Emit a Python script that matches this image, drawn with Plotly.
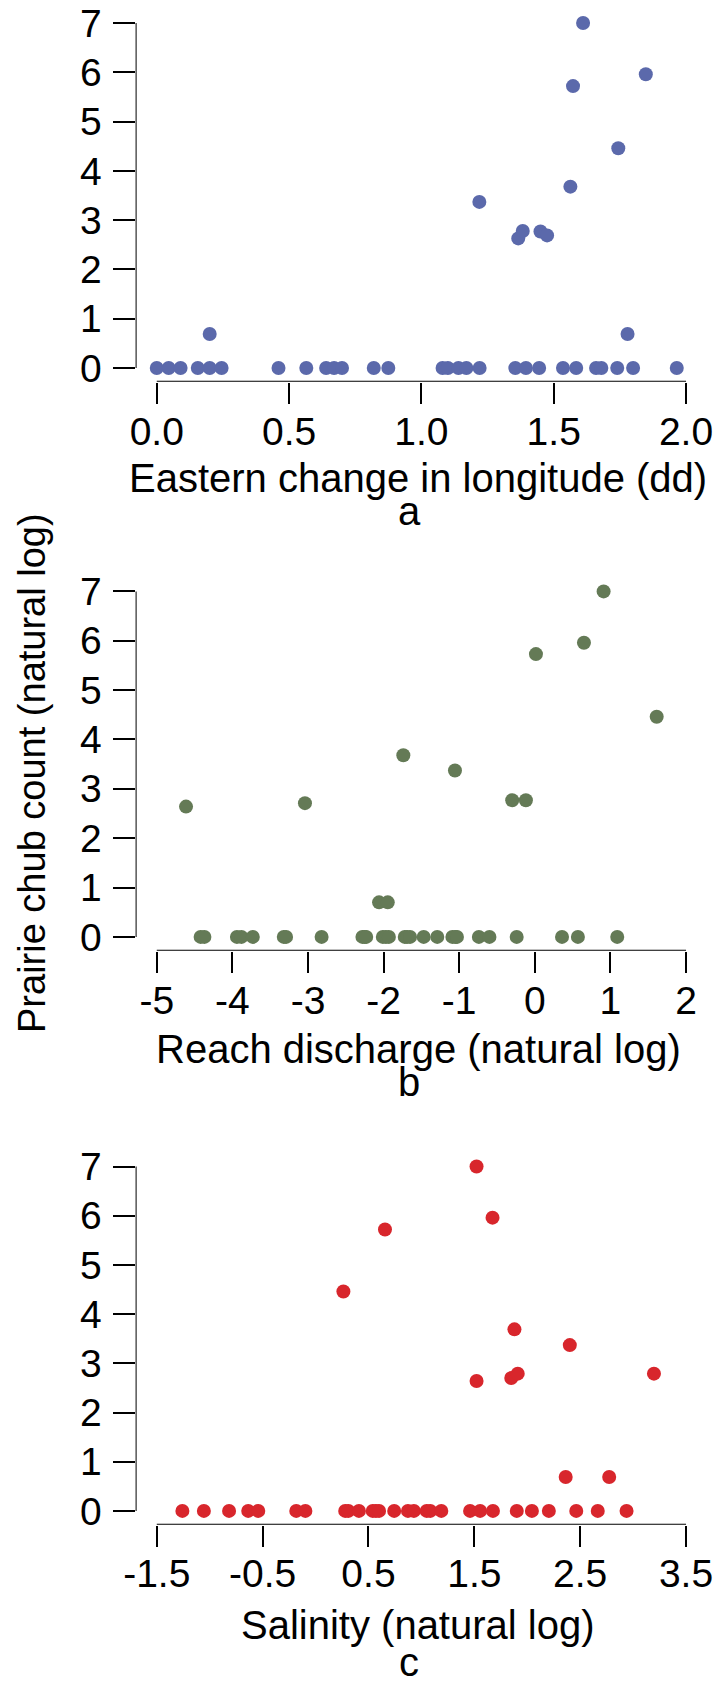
import plotly.graph_objects as go

W, H = 717, 1697
FONT = "Liberation Sans, Arial, Helvetica, sans-serif"

count_ticks = [0, 1, 2, 3, 4, 5, 6, 7]
y_title = "Prairie chub count (natural log)"

# Panel a: eastern change in longitude (dd)
lon_x = [0.0, 0.045, 0.09, 0.155, 0.20, 0.245, 0.46, 0.565, 0.64, 0.67, 0.70, 0.82, 0.875,
         1.08, 1.10, 1.14, 1.17, 1.22, 1.355, 1.395, 1.445, 1.535, 1.585, 1.66, 1.68, 1.74,
         1.80, 1.965,
         0.20, 1.611, 1.573, 1.848, 1.744, 1.563, 1.219, 1.366, 1.383, 1.450, 1.475, 1.779]
lon_y = [0] * 28 + [0.69, 7.0, 5.72, 5.96, 4.46, 3.68, 3.37, 2.63, 2.78, 2.77, 2.69, 0.69]
lon_ticks = [0.0, 0.5, 1.0, 1.5, 2.0]
lon_ticktext = ["0.0", "0.5", "1.0", "1.5", "2.0"]

# Panel b: reach discharge (natural log)
dis_x = [-4.42, -4.37, -3.94, -3.88, -3.73, -3.32, -3.29, -2.82, -2.28, -2.25, -2.23, -2.01,
         -1.97, -1.93, -1.72, -1.69, -1.65, -1.47, -1.29, -1.09, -1.05, -1.03, -0.74, -0.60,
         -0.24, 0.36, 0.57, 1.09,
         -4.613, -3.04, -1.739, -1.056, -0.299, -0.118, 0.015, 0.650, 0.910, 1.612, -2.06, -1.945]
dis_y = [0] * 28 + [2.64, 2.71, 3.68, 3.37, 2.77, 2.77, 5.73, 5.96, 7.0, 4.46, 0.70, 0.70]
dis_ticks = [-5, -4, -3, -2, -1, 0, 1, 2]
dis_ticktext = ["-5", "-4", "-3", "-2", "-1", "0", "1", "2"]

# Panel c: salinity (natural log)
sal_x = [-1.258, -1.055, -0.817, -0.636, -0.541, -0.182, -0.096, 0.28, 0.31, 0.41, 0.54, 0.57,
         0.60, 0.743, 0.873, 0.929, 1.05, 1.084, 1.188, 1.46, 1.555, 1.676, 1.901, 2.044,
         2.204, 2.463, 2.666, 2.938,
         1.521, 1.672, 0.656, 0.263, 1.879, 2.402, 3.197, 1.521, 1.849, 1.910, 2.363, 2.774]
sal_y = [0] * 28 + [7.0, 5.96, 5.72, 4.46, 3.69, 3.37, 2.79, 2.64, 2.70, 2.79, 0.69, 0.69]
sal_ticks = [-1.5, -0.5, 0.5, 1.5, 2.5, 3.5]
sal_ticktext = ["-1.5", "-0.5", "0.5", "1.5", "2.5", "3.5"]

panels = [
    dict(x=lon_x, y=lon_y, color="#5b69ab", ticks=lon_ticks, ticktext=lon_ticktext,
         title="Eastern change in longitude (dd)", letter="a",
         y7=23.0, y0=368.0, title_y=478, letter_y=511),
    dict(x=dis_x, y=dis_y, color="#647a56", ticks=dis_ticks, ticktext=dis_ticktext,
         title="Reach discharge (natural log)", letter="b",
         y7=591.4, y0=936.9, title_y=1049, letter_y=1082),
    dict(x=sal_x, y=sal_y, color="#d8262c", ticks=sal_ticks, ticktext=sal_ticktext,
         title="Salinity (natural log)", letter="c",
         y7=1166.5, y0=1510.9, title_y=1625, letter_y=1662),
]


def px_x(p):
    return p / W


def px_y(p):
    return 1 - p / H


x_left, x_right = 135.6, 707.2
xdom = [px_x(x_left), px_x(x_right)]

fig = go.Figure()
shapes = []
annotations = []
layout = {}
ylo, yhi = count_ticks[0], count_ticks[-1]
ypad = 0.04 * (yhi - ylo)

for i, p in enumerate(panels, start=1):
    xa = "x" if i == 1 else f"x{i}"
    ya = "y" if i == 1 else f"y{i}"
    lo, hi = p["ticks"][0], p["ticks"][-1]
    pad = 0.04 * (hi - lo)
    unit = (p["y0"] - p["y7"]) / (yhi - ylo)
    bottom_px = p["y0"] + ypad * unit
    top_px = max(0.0, p["y7"] - ypad * unit)
    yr = [ylo - ypad, yhi + (p["y7"] - top_px) / unit]
    fig.add_trace(go.Scatter(
        x=p["x"], y=p["y"], mode="markers", xaxis=xa, yaxis=ya,
        marker=dict(size=14, color=p["color"], line=dict(width=0)),
        cliponaxis=False, showlegend=False, hoverinfo="x+y"))
    ydom = [max(0.0, px_y(bottom_px)), min(1.0, px_y(top_px))]
    tickfont = dict(family=FONT, size=39, color="black")
    layout[f"xaxis{'' if i == 1 else i}"] = dict(
        domain=xdom, range=[lo - pad, hi + pad], anchor=ya,
        tickvals=p["ticks"], ticktext=p["ticktext"], ticks="outside", ticklen=21,
        tickwidth=2, tickcolor="black", showline=False, showgrid=False, zeroline=False,
        tickfont=tickfont, ticklabelstandoff=-6, fixedrange=True, automargin=False,
        ticklabeloverflow="allow")
    layout[f"yaxis{'' if i == 1 else i}"] = dict(
        domain=ydom, range=yr, anchor=xa,
        tickvals=count_ticks, ticks="outside", ticklen=22, tickwidth=2, tickcolor="black",
        showline=False, showgrid=False, zeroline=False, tickfont=tickfont,
        ticklabelstandoff=3, fixedrange=True, automargin=False,
        ticklabeloverflow="allow")
    # R-style axis lines spanning first to last tick
    shapes.append(dict(type="line", xref=xa, yref=ya, x0=lo, x1=hi,
                       y0=ylo - ypad, y1=ylo - ypad, line=dict(color="black", width=2)))
    shapes.append(dict(type="line", xref=xa, yref=ya, x0=lo - pad, x1=lo - pad,
                       y0=ylo, y1=yhi, line=dict(color="black", width=2)))
    annotations.append(dict(text=p["title"], xref="paper", yref="paper", x=px_x(418),
                            y=px_y(p["title_y"]), xanchor="center", yanchor="middle",
                            showarrow=False, font=dict(family=FONT, size=40, color="black")))
    annotations.append(dict(text=p["letter"], xref="paper", yref="paper", x=px_x(409),
                            y=px_y(p["letter_y"]), xanchor="center", yanchor="middle",
                            showarrow=False, font=dict(family=FONT, size=40, color="black")))

annotations.append(dict(text=y_title, xref="paper", yref="paper", x=px_x(32), y=px_y(773),
                        xanchor="center", yanchor="middle", textangle=-90, showarrow=False,
                        font=dict(family=FONT, size=38, color="black")))

fig.update_layout(
    width=W, height=H, margin=dict(l=0, r=0, t=0, b=0),
    paper_bgcolor="white", plot_bgcolor="white",
    shapes=shapes, annotations=annotations, **layout)

# Remove the browser's default body margin so the figure fills the window.
fig.write_html("out.html", config={"displayModeBar": False},
               post_script="document.body.style.margin='0px';")
